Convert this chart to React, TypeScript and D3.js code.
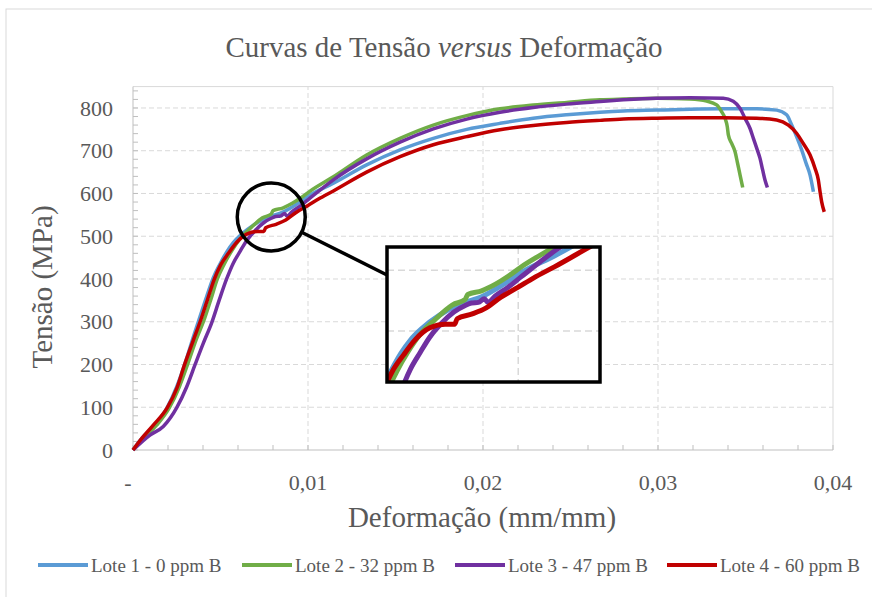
import React from "react";
import * as d3 from "d3";

// curvas tensao x deformacao
const lote1: [number, number][] = [
  [0, 0], [0.0005, 27], [0.00116, 55], [0.00192, 97], [0.0025, 148], [0.00297, 202], [0.00345, 265],
  [0.00383, 312], [0.00421, 359], [0.00459, 403], [0.00497, 435], [0.00535, 463], [0.00573, 485],
  [0.00621, 505], [0.00688, 526], [0.00764, 543], [0.00859, 557], [0.00935, 575], [0.0101, 596],
  [0.01145, 624], [0.01335, 667], [0.01526, 702], [0.01716, 729], [0.01907, 750], [0.02097, 764],
  [0.02287, 776], [0.02478, 784], [0.02669, 790], [0.02802, 793], [0.02992, 795], [0.03183, 797],
  [0.03373, 798], [0.03564, 798], [0.03678, 795], [0.03735, 784], [0.03764, 760], [0.03792, 733],
  [0.03821, 702], [0.03846, 671], [0.03869, 643], [0.03888, 604],
];
const lote2: [number, number][] = [
  [0, 0], [0.00059, 27], [0.00135, 58], [0.00208, 99], [0.00265, 148], [0.00311, 199], [0.0036, 257],
  [0.00406, 304], [0.00444, 351], [0.00482, 400], [0.0052, 434], [0.00564, 466], [0.00611, 494],
  [0.00669, 518], [0.0074, 543], [0.0079, 552], [0.008, 560], [0.00855, 566], [0.0091, 577],
  [0.0096, 590], [0.0101, 605], [0.01145, 639], [0.01335, 690], [0.01526, 729], [0.01716, 760],
  [0.01907, 782], [0.02097, 798], [0.02287, 807], [0.02478, 813], [0.02669, 819], [0.02802, 821],
  [0.02992, 823], [0.03183, 821], [0.03278, 816], [0.03335, 807], [0.03364, 791], [0.03383, 776],
  [0.03396, 756], [0.03402, 737], [0.03421, 717], [0.0344, 698], [0.03453, 674], [0.03469, 643],
  [0.03484, 614],
];
const lote3: [number, number][] = [
  [0, 0], [0.00097, 35], [0.00173, 55], [0.0025, 99], [0.00307, 148], [0.00354, 199], [0.00402, 250],
  [0.0045, 298], [0.00493, 351], [0.00535, 400], [0.00573, 437], [0.00611, 464], [0.0065, 490],
  [0.00697, 513], [0.00745, 531], [0.0079, 542], [0.00815, 546], [0.00842, 547], [0.00866, 553],
  [0.0088, 547], [0.00908, 557], [0.0096, 572], [0.01011, 589], [0.01145, 632], [0.01335, 681],
  [0.01526, 720], [0.01716, 751], [0.01907, 774], [0.02097, 790], [0.02287, 801], [0.02478, 809],
  [0.02669, 815], [0.02802, 819], [0.02992, 823], [0.03183, 824], [0.03373, 823], [0.0343, 816],
  [0.03469, 799], [0.03497, 776], [0.03526, 752], [0.03545, 729], [0.03564, 706], [0.03583, 682],
  [0.03598, 655], [0.03611, 632], [0.03625, 614],
];
const lote4: [number, number][] = [
  [0, 0], [0.0005, 27], [0.00116, 58], [0.00196, 99], [0.0025, 144], [0.00294, 199], [0.00345, 257],
  [0.00387, 304], [0.00425, 351], [0.00463, 398], [0.00501, 433], [0.00545, 460], [0.00593, 486],
  [0.0065, 505], [0.0071, 511], [0.00748, 511], [0.00758, 520], [0.00818, 528], [0.00873, 538],
  [0.0093, 555], [0.01, 572], [0.0106, 587], [0.01145, 606], [0.01335, 650], [0.01526, 686],
  [0.01716, 714], [0.01907, 733], [0.02097, 749], [0.02287, 759], [0.02478, 766], [0.02669, 771],
  [0.02802, 774], [0.02992, 776], [0.03183, 777], [0.03373, 777], [0.03564, 776], [0.03678, 772],
  [0.03745, 760], [0.03792, 741], [0.0383, 717], [0.03869, 690], [0.03897, 659], [0.03916, 632],
  [0.03926, 604], [0.03935, 581], [0.0395, 557],
];

const seriesNames = ["Lote 1 - 0 ppm B", "Lote 2 - 32 ppm B", "Lote 3 - 47 ppm B", "Lote 4 - 60 ppm B"];
const seriesColors = ["#5B9BD5", "#70AD47", "#7030A0", "#C00000"];
const allSeries = [lote1, lote2, lote3, lote4];

const yTicks = [0, 100, 200, 300, 400, 500, 600, 700, 800];
const xTicks = [0, 0.01, 0.02, 0.03, 0.04];
const xTickLabels = ["-", "0,01", "0,02", "0,03", "0,04"];

const FONT = "'Liberation Serif', 'Times New Roman', serif";
const TXT = "#595959";

export default function App() {
  const W = 872, H = 597;
  const x = d3.scaleLinear().domain([0, 0.04]).range([133, 833]);
  const y = d3.scaleLinear().domain([0, 850]).range([450, 86.6]);

  // inset (zoom da regiao do circulo)
  const box = { x0: 387, y0: 247, x1: 600, y1: 382 };
  const ix = d3.scaleLinear().domain([0.00488, 0.01316]).range([389, 598]);
  const iy = d3.scaleLinear().domain([419, 635]).range([380, 249]);

  const line = d3.line<[number, number]>().x(d => x(d[0])).y(d => y(d[1])).curve(d3.curveMonotoneX);
  const iline = d3.line<[number, number]>().x(d => ix(d[0])).y(d => iy(d[1])).curve(d3.curveMonotoneX);

  const cx = x(0.0079), cy = y(545), r = 34;
  const tx = box.x0, ty = 275;
  const ang = Math.atan2(ty - cy, tx - cx);

  const yMinor = d3.range(0, 850, 20);
  const xMinor = d3.range(0, 0.0401, 0.002);

  const legendX = [38, 242, 455, 667];

  return (
    <svg width={W} height={H} style={{ position: "absolute", left: 0, top: 0, background: "#fff" }} fontFamily={FONT}>
      <rect x={6} y={9} width={900} height={700} fill="#fff" stroke="#D9D9D9" />

      <text x={444} y={57} textAnchor="middle" fontSize={29} fill={TXT}>
        Curvas de Tensão <tspan fontStyle="italic">versus</tspan> Deformação
      </text>

      {/* grade */}
      {yTicks.slice(1).map(t => (
        <line key={"gy" + t} x1={x(0)} x2={x(0.04)} y1={y(t)} y2={y(t)} stroke="#D9D9D9" strokeDasharray="5,3" />
      ))}
      {xTicks.slice(1, 4).map(t => (
        <line key={"gx" + t} x1={x(t)} x2={x(t)} y1={y(0)} y2={y(850)} stroke="#D9D9D9" strokeDasharray="5,3" />
      ))}
      <line x1={x(0)} x2={x(0.04)} y1={y(850)} y2={y(850)} stroke="#D9D9D9" />
      <line x1={x(0.04)} x2={x(0.04)} y1={y(850)} y2={y(0)} stroke="#D9D9D9" />
      <line x1={x(0)} x2={x(0)} y1={y(850)} y2={y(0)} stroke="#BFBFBF" />
      <line x1={x(0)} x2={x(0.04)} y1={y(0)} y2={y(0)} stroke="#BFBFBF" />
      {yMinor.map(t => (
        <line key={"my" + t} x1={x(0)} x2={x(0) + 5} y1={y(t)} y2={y(t)} stroke="#BFBFBF" />
      ))}
      {xMinor.map(t => (
        <line key={"mx" + t} x1={x(t)} x2={x(t)} y1={y(0)} y2={y(0) - 5} stroke="#BFBFBF" />
      ))}

      {/* eixos */}
      {yTicks.map(t => (
        <text key={"ty" + t} x={113} y={y(t)} dy="0.35em" textAnchor="end" fontSize={22} fill={TXT}>{t}</text>
      ))}
      {xTicks.map((t, i) => (
        <text key={"tx" + t} x={x(t) + (i === 0 ? -5 : 0)} y={490} textAnchor="middle" fontSize={22} fill={TXT}>{xTickLabels[i]}</text>
      ))}
      <text x={482} y={527} textAnchor="middle" fontSize={29} fill={TXT}>Deformação (mm/mm)</text>
      <text transform="translate(52,287) rotate(-90)" textAnchor="middle" fontSize={29} fill={TXT}>Tensão (MPa)</text>

      {/* curvas */}
      {allSeries.map((s, i) => (
        <path key={"c" + i} d={line(s) || ""} fill="none" stroke={seriesColors[i]} strokeWidth={3.5} strokeLinejoin="round" />
      ))}

      {/* destaque */}
      <circle cx={cx} cy={cy} r={r} fill="none" stroke="#000" strokeWidth={3.5} />
      <line x1={cx + r * Math.cos(ang)} y1={cy + r * Math.sin(ang)} x2={tx} y2={ty} stroke="#000" strokeWidth={3.5} />

      <defs>
        <clipPath id="insetClip">
          <rect x={box.x0} y={box.y0} width={box.x1 - box.x0} height={box.y1 - box.y0} />
        </clipPath>
      </defs>
      <rect x={box.x0} y={box.y0} width={box.x1 - box.x0} height={box.y1 - box.y0} fill="#fff" />
      <g clipPath="url(#insetClip)">
        {[500, 600].map(t => (
          <line key={"iy" + t} x1={box.x0} x2={box.x1} y1={iy(t)} y2={iy(t)} stroke="#D9D9D9" strokeWidth={1.5} strokeDasharray="7,4" />
        ))}
        <line x1={ix(0.01)} x2={ix(0.01)} y1={box.y0} y2={box.y1} stroke="#D9D9D9" strokeWidth={1.5} strokeDasharray="7,4" />
        {allSeries.map((s, i) => (
          <path key={"ic" + i} d={iline(s) || ""} fill="none" stroke={seriesColors[i]} strokeWidth={5} strokeLinejoin="round" />
        ))}
      </g>
      <rect x={box.x0} y={box.y0} width={box.x1 - box.x0} height={box.y1 - box.y0} fill="none" stroke="#000" strokeWidth={3.5} />

      {/* legenda */}
      {seriesNames.map((n, i) => (
        <g key={"lg" + i}>
          <line x1={legendX[i]} x2={legendX[i] + 50} y1={565} y2={565} stroke={seriesColors[i]} strokeWidth={4} />
          <text x={legendX[i] + 53} y={565} dy="0.35em" fontSize={19} fill={TXT}>{n}</text>
        </g>
      ))}
    </svg>
  );
}
